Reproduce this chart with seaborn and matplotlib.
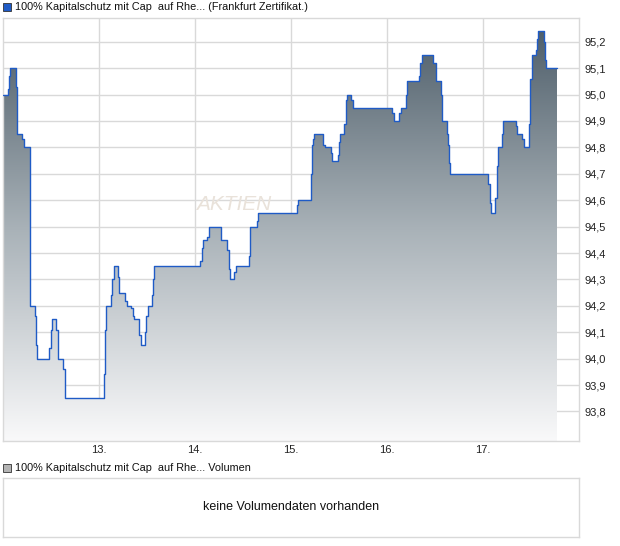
import numpy as np
import matplotlib
matplotlib.use("Agg")
import matplotlib.pyplot as plt
from matplotlib.colors import LinearSegmentedColormap
from matplotlib.patches import Rectangle
import seaborn as sns

sns.set_style("white")
plt.rcParams['font.family'] = ['Liberation Sans', 'DejaVu Sans']

# price steps: time as fractional day of month, price holds until next time
times = [12.000, 12.052, 12.060, 12.076, 12.135, 12.146, 12.151, 12.203, 12.214,
         12.281, 12.333, 12.344, 12.357, 12.482, 12.497, 12.507, 12.552, 12.570,
         12.576, 12.622, 12.643, 12.649, 13.055, 13.063, 13.073, 13.122, 13.135,
         13.153, 13.198, 13.208, 13.274, 13.289, 13.333, 13.351, 13.361, 13.414,
         13.434, 13.482, 13.490, 13.507, 13.552, 13.563, 13.576, 14.052, 14.070,
         14.080, 14.128, 14.146, 14.271, 14.336, 14.354, 14.361, 14.409, 14.430,
         14.559, 14.573, 14.649, 14.659, 15.059, 15.076, 15.205, 15.216, 15.226,
         15.240, 15.336, 15.357, 15.414, 15.427, 15.486, 15.497, 15.507, 15.555,
         15.570, 15.580, 15.625, 15.649, 16.055, 16.076, 16.125, 16.143, 16.198,
         16.211, 16.336, 16.344, 16.361, 16.482, 16.507, 16.559, 16.576, 16.622,
         16.632, 16.646, 16.656, 17.055, 17.073, 17.080, 17.128, 17.143, 17.153,
         17.201, 17.211, 17.341, 17.351, 17.406, 17.427, 17.482, 17.490, 17.507,
         17.552, 17.563, 17.576, 17.635, 17.646, 17.656, 17.774]
prices = [95.00, 95.02, 95.07, 95.10, 95.03, 94.90, 94.85, 94.83, 94.80,
          94.20, 94.16, 94.05, 94.00, 94.04, 94.11, 94.15, 94.11, 94.04,
          94.00, 93.96, 93.89, 93.85, 93.94, 94.11, 94.20, 94.24, 94.30,
          94.35, 94.31, 94.25, 94.22, 94.20, 94.19, 94.16, 94.15, 94.09,
          94.05, 94.10, 94.16, 94.20, 94.24, 94.30, 94.35, 94.37, 94.42,
          94.45, 94.46, 94.50, 94.45, 94.41, 94.34, 94.30, 94.33, 94.35,
          94.39, 94.50, 94.52, 94.55, 94.58, 94.60, 94.70, 94.81, 94.83,
          94.85, 94.81, 94.80, 94.78, 94.75, 94.77, 94.82, 94.85, 94.89,
          94.98, 95.00, 94.98, 94.95, 94.93, 94.90, 94.93, 94.95, 95.00,
          95.05, 95.07, 95.12, 95.15, 95.12, 95.05, 95.00, 94.90, 94.85,
          94.81, 94.74, 94.70, 94.66, 94.59, 94.55, 94.61, 94.73, 94.80,
          94.85, 94.90, 94.88, 94.85, 94.83, 94.80, 94.89, 95.06, 95.15,
          95.17, 95.21, 95.24, 95.20, 95.13, 95.10, 95.10]

day_ticks = [13, 14, 15, 16, 17]
day_labels = ["13.", "14.", "15.", "16.", "17."]
price_ticks = [93.8, 93.9, 94.0, 94.1, 94.2, 94.3, 94.4, 94.5, 94.6, 94.7, 94.8, 94.9, 95.0, 95.1, 95.2]

title = "100% Kapitalschutz mit Cap  auf Rhe... (Frankfurt Zertifikat.)"
vol_title = "100% Kapitalschutz mit Cap  auf Rhe... Volumen"

XMIN, XMAX = 12.0, 18.0
YMIN, YMAX = 93.69, 95.29
GRID = "#d9d9d9"
LINE = "#1f5bc6"

fig = plt.figure(figsize=(6.2, 5.46), dpi=100)
ax = fig.add_axes([3 / 620, 1 - 440.5 / 546, 576 / 620, 422.5 / 546])

ax.set_xlim(XMIN, XMAX)
ax.set_ylim(YMIN, YMAX)
ax.set_xticks(day_ticks)
ax.set_xticklabels(day_labels)
ax.set_yticks(price_ticks)
ax.set_yticklabels([f"{v:.1f}".replace(".", ",") for v in price_ticks])
ax.yaxis.tick_right()
ax.tick_params(axis="both", length=0, labelsize=8, colors="#222222")
ax.tick_params(axis="y", pad=4)
ax.tick_params(axis="x", pad=3)
ax.grid(True, color=GRID, lw=1)
ax.set_axisbelow(True)
for s in ax.spines.values():
    s.set_color(GRID)
    s.set_linewidth(1)

# watermark
ax.text(14.4, 94.585, "AKTIEN", fontsize=15, style="italic", color="#e9e2da",
        ha="center", va="center", zorder=1)

# gradient fill under the step line
poly = ax.fill_between(times, prices, YMIN - 1, step="post", color="none", lw=0)
cmap = LinearSegmentedColormap.from_list("g", ["#f9f9fa", "#a9b2b8", "#4a5a66"])
grad = np.linspace(0, 1, 256).reshape(-1, 1)
img = ax.imshow(grad, cmap=cmap, origin="lower", aspect="auto",
                extent=[XMIN, XMAX, YMIN, YMAX], zorder=2, interpolation="bicubic")
img.set_clip_path(poly.get_paths()[0], transform=ax.transData)

sns.lineplot(x=times, y=prices, drawstyle="steps-post", color=LINE, lw=1.0,
             estimator=None, ax=ax, zorder=3)
ax.set_xlim(XMIN, XMAX)
ax.set_ylim(YMIN, YMAX)

# legend row above main chart
fig.patches.append(Rectangle((3 / 620, 1 - 11 / 546), 8 / 620, 8 / 546,
                             transform=fig.transFigure, facecolor="#1f5bc6",
                             edgecolor="#333333", lw=0.6))
fig.text(15 / 620, 1 - 7 / 546, title, fontsize=7.8, va="center", ha="left", color="#111111")

# volume panel
fig.patches.append(Rectangle((3 / 620, 1 - 472 / 546), 8 / 620, 8 / 546,
                             transform=fig.transFigure, facecolor="#b4b4b4",
                             edgecolor="#333333", lw=0.6))
fig.text(15 / 620, 1 - 468 / 546, vol_title, fontsize=7.8, va="center", ha="left", color="#111111")

vax = fig.add_axes([3 / 620, 1 - 537 / 546, 576 / 620, 59 / 546])
vax.set_xticks([])
vax.set_yticks([])
for s in vax.spines.values():
    s.set_color(GRID)
    s.set_linewidth(1)
vax.text(0.5, 0.5, "keine Volumendaten vorhanden", fontsize=9, ha="center",
         va="center", transform=vax.transAxes, color="#111111")

fig.savefig("out.png", dpi=100)
